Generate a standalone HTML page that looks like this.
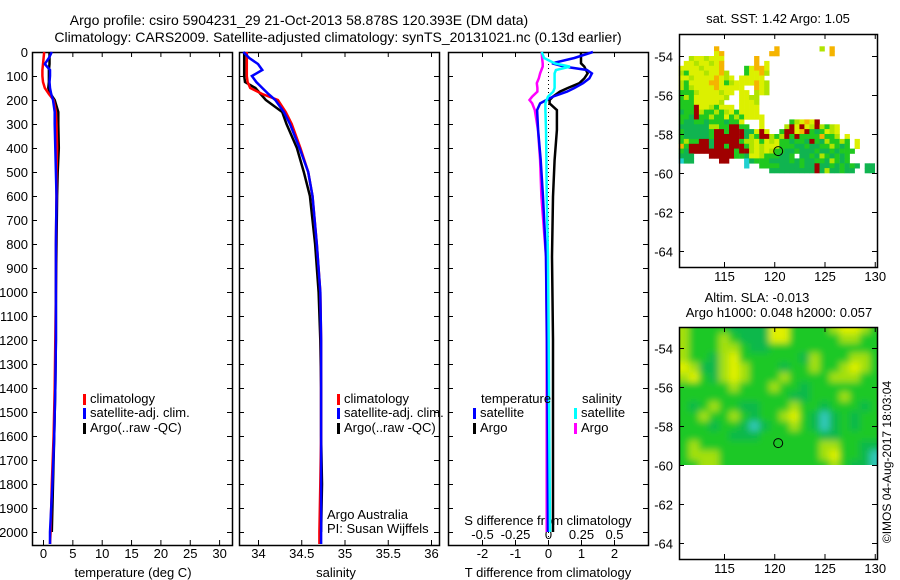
<!DOCTYPE html>
<html><head><meta charset="utf-8"><style>
body{margin:0;background:#fff}
svg{display:block;font-family:"Liberation Sans",sans-serif}
</style></head><body>
<svg id="chart" width="900" height="580" viewBox="0 0 900 580" xmlns="http://www.w3.org/2000/svg">
<text x="299" y="25" font-size="14" text-anchor="middle">Argo profile: csiro 5904231_29 21-Oct-2013 58.878S 120.393E (DM data)</text>
<text x="338" y="42" font-size="14" text-anchor="middle">Climatology: CARS2009. Satellite-adjusted climatology: synTS_20131021.nc (0.13d earlier)</text>
<g id="g"></g>
</svg>
<script>
// ---------- profile data ----------
const depthTS = [0,25,50,75,100,125,150,175,200,250,300,400,500,600,800,1000,1200,1400,1600,1800,2000,2050];
const tempClim = [0.2,0.1,0.0,-0.1,-0.1,0.0,0.3,1.0,1.8,2.2,2.3,2.4,2.3,2.3,2.2,2.2,2.1,2.0,1.8,1.5,1.3,1.2];
const tempSat  = [1.5,1.0,0.3,1.2,1.2,1.1,1.2,1.4,1.7,2.0,2.0,2.1,2.2,2.3,2.2,2.2,2.2,2.1,1.9,1.6,1.2,1.2];
const tempArgo = [1.1,1.1,1.1,1.0,1.0,1.0,0.9,1.3,2.0,2.6,2.6,2.7,2.5,2.4,2.3,2.2,2.2,2.1,1.9,1.7,1.5];
const salClim = [33.87,33.87,33.87,33.87,33.87,33.88,33.91,34.05,34.23,34.32,34.39,34.49,34.58,34.63,34.68,34.72,34.73,34.73,34.73,34.72,34.71,34.71];
const salSat  = [33.83,33.9,34.0,34.05,33.93,33.98,34.05,34.12,34.2,34.3,34.37,34.48,34.58,34.63,34.68,34.72,34.73,34.73,34.73,34.73,34.73,34.73];
const salArgo = [33.84,33.84,33.84,33.84,33.84,33.85,33.97,34.03,34.09,34.28,34.33,34.45,34.53,34.6,34.66,34.7,34.72,34.73,34.73,34.74,34.73];
const depthDiff = [0,25,47,61,75,89,110,130,150,165,186,200,214,242,325,450,603,853,1200,1600,2000];
const tDiffSat  = [1.36,0.8,0.12,0.5,1.18,1.33,1.25,1.06,0.8,0.58,0.15,-0.05,-0.24,-0.33,-0.3,-0.22,-0.15,-0.06,-0.03,-0.01,0];
const tDiffArgo = [1.0,1.0,1.0,1.1,1.15,1.2,1.1,0.95,0.6,0.36,0.15,0.05,0.05,0.27,0.27,0.2,0.15,0.12,0.15,0.15,0.15];
const sDiffSat  = [-0.048,-0.03,0.05,0.167,0.06,0.05,0.05,0.05,0.05,0.04,0.0,-0.01,-0.02,-0.02,-0.015,-0.012,-0.01,0.0,0.005,0.01,0.015];
const sDiffArgo = [-0.048,-0.045,-0.04,-0.04,-0.05,-0.06,-0.07,-0.085,-0.08,-0.08,-0.12,-0.14,-0.12,-0.1,-0.076,-0.06,-0.05,-0.015,-0.01,-0.01,-0.01];
const depthTicks = [0,100,200,300,400,500,600,700,800,900,1000,1100,1200,1300,1400,1500,1600,1700,1800,1900,2000];
const tempTicks = [0,5,10,15,20,25,30];
const salTicks = [34,34.5,35,35.5,36];
const salTickLabels = ["34","34.5","35","35.5","36"];
const tdTicks = [-2,-1,0,1,2];
const sdTicks = [-0.5,-0.25,0,0.25,0.5];
const sdTickLabels = ["-0.5","-0.25","0","0.25","0.5"];
// ---------- SST map data (lon 110.5 + 0.5*col, lat -52.75 - 0.25*row) ----------
const sstRows = [
"", "", "", "7o 19o 28l 30o", "7y 8o 18o 19o 30o",
"2l 3y 4y 5l 6y 7y 8y 15o",
"1y 2y 3l 4y 5y 6l 7y 8o 15o 17y",
"0y 1y 2y 3y 4l 5y 6y 7y 8o 13g 14y 15o 16o 17y",
"0l 1g 2y 3y 4y 5l 6y 7y 8o 9l 13g 14y 15y 16o 17l",
"0y 1y 2l 3y 4y 5y 6y 7o 8y 9l 10y 12y 13y 14y 15y 16y",
"0l 1g 2y 3y 4y 5y 6o 7o 8y 9g 10l 11y 12y 13y 14y 15o 16y 17l",
"0l 1g 2l 3y 4y 5y 6y 7o 8y 9y 10y 11y 12y 15o 16y 17l",
"0g 1g 2g 3l 4y 5y 6y 7y 8l 9y 10y 12y 13y 15l 16y 17l",
"0g 1l 2g 3y 4y 5y 6y 7y 8y 9l 12y 13y 14l 15l",
"0g 1g 2g 3y 4y 5y 6y 7y 8l 12y 13y 14y 15l",
"0g 1g 2g 3r 4y 5y 6l 7g 8y 9y 10y 12y 13y 14y 15y",
"0G 1g 2g 3r 4l 5g 6g 7l 8g 9l 10y 11g 12y 13y 14y 15y",
"0g 1g 2G 3r 4g 5g 6l 7g 8g 9y 10g 11l 12g 13y 14y 15y 16y",
"0g 1G 2G 3g 4g 5G 6g 7g 8g 9G 10g 11g 12y 16y 22g 23l 24y 25o 26y 27r",
"0G 1G 2G 3G 4G 5G 6l 7l 8g 9g 10r 11r 12g 13g 16y 21l 22r 23y 24r 25y 26l 27r 28l 29g 30l 31y",
"0g 1G 2G 3G 4G 5G 6g 7r 8r 9g 10r 11r 12r 13G 14G 15y 16r 17y 20g 21r 22r 23y 24o 25r 26g 27G 28g 29y 30l 31y",
"0g 1G 2G 3G 4G 5G 6g 7r 8r 9r 10r 11r 12r 13G 14l 15g 16r 17r 18l 19g 20l 21r 22g 23r 24g 25g 26g 27g 28o 29g 30g 31l 33y",
"0g 1l 2g 3g 4r 5r 6G 7r 8r 9r 10r 11r 12g 13l 14l 15y 16g 17y 18l 19y 20g 21g 22G 23g 24g 25G 26r 27g 28G 29l 30g 31g 32l 33g 35y",
"0o 1g 2r 3r 4r 5r 6G 7r 8r 9g 10r 11r 12r 13g 14l 15y 16l 17y 18y 19y 20g 21g 22g 23G 24G 25g 26G 27G 28g 29g 30l 31g 32G 33g 35y",
"0g 1G 2r 3r 4r 5r 6r 7r 8r 9r 10r 11g 12r 13r 14l 15y 16l 17y 18l 19g 20g 21G 22G 23g 24G 25G 26G 27g 28G 29G 30g 31G 32g 33g 34g",
"0G 1G 2G 6r 7r 8r 9r 10r 11g 12g 13G 14y 15y 16l 17g 18g 19g 20G 21G 22g 24G 25G 26g 27G 28l 29g 30G 31g 32G 33g",
"0c 1G 2G 8r 9r 13c 14G 15g 16g 17g 18G 19G 20G 21G 22g 23G 24g 25G 26G 27g 28g 29G 30l 31g 32G 33g",
"13c 16g 17g 18g 19g 20G 21G 22G 23G 24g 25G 26G 27r 28G 29G 30g 31G 32g 33G 34g 35G 37G 38G",
"18G 19G 20G 21G 22G 23G 24G 25G 26G 27r 28G 29l 30G 31G 32g 33G 34G 37G 38G"
];
// ---------- SLA map data (lon 111+col, lat -53 - 0.5*row), level 0..4 ----------
const slaRows = [
[3,2,2,2,2,1,1,1,1,4,4,2,2,2,2,3,4,4,3,2],
[3,2,2,2,3,2,1,1,1,4,4,2,2,2,2,2,3,3,2,2],
[3,2,2,2,3,3,2,1,1,2,2,2,2,2,2,2,2,2,2,2],
[3,2,2,1,3,4,2,2,2,2,2,2,1,3,2,2,2,3,3,2],
[4,3,1,1,3,4,3,2,2,2,1,2,2,3,2,2,3,4,3,2],
[3,4,2,1,3,4,3,2,2,2,3,2,2,2,2,3,3,3,2,2],
[2,2,2,2,2,3,2,2,2,3,2,2,1,2,2,2,2,2,2,2],
[2,2,2,2,2,2,2,2,2,2,2,1,1,2,2,2,3,2,2,2],
[2,1,2,3,2,2,1,1,2,2,2,3,2,2,1,2,2,2,1,2],
[2,2,3,2,2,3,2,1,2,2,3,4,2,1,0,1,2,1,2,2],
[2,2,2,1,2,2,1,0,1,2,2,3,2,1,0,1,2,1,2,2],
[2,2,2,2,2,1,1,1,2,2,2,2,2,2,1,1,2,2,2,2],
[2,3,2,2,2,2,2,2,2,2,2,2,2,2,3,3,2,2,1,1],
[2,3,3,3,2,2,2,2,2,2,2,2,2,2,3,4,2,2,1,0],
[2,2,3,3,2,2,2,2,2,2,2,2,2,2,2,3,2,1,1,0]
];
const argoLon = 120.393, argoLat = -58.878;
const latTicks = [-54,-56,-58,-60,-62,-64];
const lonTicks = [115,120,125,130];

const NS="http://www.w3.org/2000/svg";
const root=document.getElementById('g');
function el(tag,attrs,parent,text){const e=document.createElementNS(NS,tag);for(const k in attrs)e.setAttribute(k,attrs[k]);if(text!==undefined)e.textContent=text;(parent||root).appendChild(e);return e;}

const Y0=52, YB=545;
const yD=d=>Y0+d*0.24;

function panel(x0,x1,name){
  const g=el('g',{});
  
  
  const r=el('rect',{x:x0+0.5,y:Y0+0.5,width:x1-x0,height:YB-Y0,fill:'none',stroke:'#000','stroke-width':1.5},g);
  
  
  depthTicks.forEach(d=>{const y=yD(d)+0.5;
    el('line',{x1:x0,x2:x0+5,y1:y,y2:y,stroke:'#000'},g);
    el('line',{x1:x1-5,x2:x1,y1:y,y2:y,stroke:'#000'},g);});
  return g;
}
function xticks(g,vals,fx,labels,ly,top){
  vals.forEach((v,i)=>{const x=fx(v)+0.5;
    el('line',{x1:x,x2:x,y1:YB-5,y2:YB,stroke:'#000'},g);
    if(top) el('line',{x1:x,x2:x,y1:Y0,y2:Y0+5,stroke:'#000'},g);
    const t=el('text',{x:x,y:ly,'font-size':13,'text-anchor':'middle'},g,labels?labels[i]:String(v));
    
    
  });
}
function line(g,xs,ds,fx,color,name,w){
  const pts=xs.map((v,i)=>fx(v).toFixed(1)+','+yD(ds[i]).toFixed(1)).join(' ');
  const p=el('polyline',{points:pts,fill:'none',stroke:color,'stroke-width':w||2.5,'stroke-linejoin':'miter'},g);
  
  
}
function legendEntry(g,x,y,color,label){
  const r=el('rect',{x:x,y:y-9,width:3,height:11,fill:color},g);
  
  
  const t=el('text',{x:x+7,y:y,'font-size':13},g,label);
  
  
}

// Panel 1: temperature
const xT=v=>43+v*5.87;
const p1=panel(32,232,'temperature-panel');
depthTicks.forEach(d=>{const t=el('text',{x:28,y:yD(d)+5,'font-size':13,'text-anchor':'end'},p1,String(d));
  
  });
xticks(p1,tempTicks,xT,null,558,true);
const t1=el('text',{x:133,y:577,'font-size':13,'text-anchor':'middle'},p1,'temperature (deg C)');


line(p1,tempArgo,depthTS,xT,'#000','temp-argo-line');
line(p1,tempClim,depthTS,xT,'#f00','temp-climatology-line');
line(p1,tempSat,depthTS,xT,'#00f','temp-satellite-line');
legendEntry(p1,83,403,'#f00','climatology');
legendEntry(p1,83,417,'#00f','satellite-adj. clim.');
legendEntry(p1,83,432,'#000','Argo(..raw -QC)');

// Panel 2: salinity
const xS=v=>258+(v-34)*86.5;
const p2=panel(239,439,'salinity-panel');
xticks(p2,salTicks,xS,salTickLabels,558,true);
const t2=el('text',{x:336,y:577,'font-size':13,'text-anchor':'middle'},p2,'salinity');


line(p2,salArgo,depthTS,xS,'#000','sal-argo-line');
line(p2,salClim,depthTS,xS,'#f00','sal-climatology-line');
line(p2,salSat,depthTS,xS,'#00f','sal-satellite-line');
legendEntry(p2,337,403,'#f00','climatology');
legendEntry(p2,337,417,'#00f','satellite-adj. clim.');
legendEntry(p2,337,432,'#000','Argo(..raw -QC)');
const a1=el('text',{x:327,y:519,'font-size':13},p2,'Argo Australia');


const a2=el('text',{x:327,y:533,'font-size':13},p2,'PI: Susan Wijffels');



// Panel 3: differences
const xTD=v=>548+v*33;
const xSD=v=>548+v*132;
const p3=panel(448,648,'difference-panel');
const z=el('line',{x1:548.5,x2:548.5,y1:Y0,y2:YB,stroke:'#000','stroke-dasharray':'1,3'},p3);


xticks(p3,tdTicks,xTD,null,558,true);
sdTicks.forEach((v,i)=>{const t=el('text',{x:xSD(v)+0.5,y:539,'font-size':13,'text-anchor':'middle'},p3,sdTickLabels[i]);
  
  });
const t3=el('text',{x:548,y:525,'font-size':13,'text-anchor':'middle'},p3,'S difference from climatology');


const t4=el('text',{x:548,y:577,'font-size':13,'text-anchor':'middle'},p3,'T difference from climatology');


line(p3,tDiffArgo,depthDiff,xTD,'#000','t-diff-argo-line');
line(p3,sDiffArgo,depthDiff,xSD,'#f0f','s-diff-argo-line');
line(p3,tDiffSat,depthDiff,xTD,'#00f','t-diff-satellite-line');
line(p3,sDiffSat,depthDiff,xSD,'#0ff','s-diff-satellite-line');
const lt=el('text',{x:481,y:403,'font-size':13},p3,'temperature');


const ls=el('text',{x:582,y:403,'font-size':13},p3,'salinity');


legendEntry(p3,473,417,'#00f','satellite');
legendEntry(p3,473,432,'#000','Argo');
legendEntry(p3,574,417,'#0ff','satellite');
legendEntry(p3,574,432,'#f0f','Argo');

// ---------- maps ----------
function mapAxes(top,bottom,latRef,name){
  const L=679,R=877;
  const fx=lon=>724+(lon-115)*10.05;
  const fy=lat=>latRef+(-54-lat)*19.5;
  const g=el('g',{});
  
  
  return {g,fx,fy,L,R,top,bottom};
}
function mapFrame(m){
  const {g,fx,fy,L,R,top,bottom}=m;
  const r=el('rect',{x:L+0.5,y:top+0.5,width:R-L,height:bottom-top,fill:'none',stroke:'#000','stroke-width':1.5},g);
  
  
  latTicks.forEach(v=>{const y=fy(v)+0.5;
    el('line',{x1:L,x2:L+5,y1:y,y2:y,stroke:'#000'},g);
    el('line',{x1:R-5,x2:R,y1:y,y2:y,stroke:'#000'},g);
    const t=el('text',{x:L-6,y:y+5,'font-size':13,'text-anchor':'end'},g,String(v));
    
    });
  lonTicks.forEach(v=>{const x=fx(v)+0.5;
    el('line',{x1:x,x2:x,y1:bottom-5,y2:bottom,stroke:'#000'},g);
    el('line',{x1:x,x2:x,y1:top,y2:top+5,stroke:'#000'},g);
    const t=el('text',{x:x,y:bottom+14,'font-size':13,'text-anchor':'middle'},g,String(v));
    
    });
  const c=el('circle',{cx:fx(argoLon),cy:fy(argoLat),r:4.5,fill:'none',stroke:'#000','stroke-width':1},g);
  
  
}
const sstColors={y:'#dcf000',o:'#f5b400',l:'#b0e400',g:'#20c820',G:'#10b450',r:'#a00000',c:'#20d0d0'};
const m1=mapAxes(34,267,56,'sst-map');
sstRows.forEach((row,r)=>{
  row.split(' ').filter(s=>s).forEach(tok=>{
    const c=parseInt(tok),k=tok.replace(/[0-9]/g,'');
    const lon=110.5+0.5*c, lat=-52.75-0.25*r;
    const x=m1.fx(lon), y=m1.fy(lat);
    const cell=el('rect',{x:x.toFixed(1),y:y.toFixed(1),width:(m1.fx(lon+0.5)-x+0.3).toFixed(1),height:(m1.fy(lat-0.25)-y+0.3).toFixed(1),fill:sstColors[k]},m1.g);
    
    
  });
});
mapFrame(m1);
const st=el('text',{x:778,y:23,'font-size':13,'text-anchor':'middle'},m1.g,'sat. SST: 1.42 Argo: 1.05');



const slaColors=['#30c8b8','#10b84c','#1cc828','#a4e010','#e0f000'];
const m2=mapAxes(327,559,348,'sla-map');
const defs=el('defs',{});
const clip=el('clipPath',{id:'slaclip'},defs);
el('rect',{x:679,y:327,width:198,height:(m2.fy(-60)-327).toFixed(1)},clip);
const flt=el('filter',{id:'blur',x:'-10%',y:'-10%',width:'120%',height:'120%'},defs);
el('feGaussianBlur',{stdDeviation:3.5},flt);
const sg=el('g',{'clip-path':'url(#slaclip)'},m2.g);
const sb=el('g',{filter:'url(#blur)'},sg);
slaRows.forEach((row,r)=>row.forEach((v,c)=>{
  const lon=111+c-0.5, lat=-53+0.25-0.5*r;
  const x=m2.fx(lon), y=m2.fy(lat);
  let y0=y, h=m2.fy(lat-0.5)-y;
  if(r===0){y0=y-20;h+=20;}
  if(r===slaRows.length-1){h+=10;}
  let x0=x, w=m2.fx(lon+1)-x;
  if(c===0){x0-=12;w+=12;}
  if(c===row.length-1){w+=12;}
  const cell=el('rect',{x:x0.toFixed(1),y:y0.toFixed(1),width:(w+0.5).toFixed(1),height:(h+0.5).toFixed(1),fill:slaColors[v]},sb);
  
  
}));
mapFrame(m2);
const s1=el('text',{x:757,y:302,'font-size':13,'text-anchor':'middle'},m2.g,'Altim. SLA: -0.013');


const s2=el('text',{x:779,y:317,'font-size':13,'text-anchor':'middle'},m2.g,'Argo h1000: 0.048 h2000: 0.057');


const cr=el('text',{x:0,y:0,'font-size':12,'text-anchor':'middle',transform:'translate(891,462) rotate(-90)'},root,'©IMOS 04-Aug-2017 18:03:04');


</script>
</body></html>
